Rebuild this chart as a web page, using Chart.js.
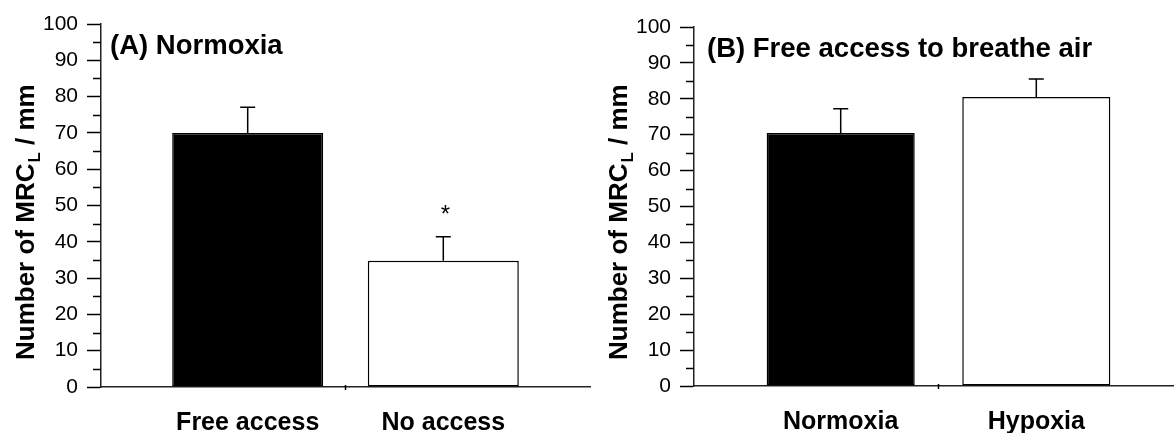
<!DOCTYPE html>
<html><head><meta charset="utf-8">
<script src="https://cdn.jsdelivr.net/npm/chart.js@4.4.0/dist/chart.umd.min.js"></script>
<style>
html,body{margin:0;padding:0;background:#fff;overflow:hidden;width:1174px;height:433px;}
.panel{position:absolute;top:0;width:600px;height:433px;}
#pA{left:0} #pB{left:593px}
</style></head><body>
<div class="panel" id="pA"><canvas id="cA"></canvas></div>
<div class="panel" id="pB"><canvas id="cB"></canvas></div>
<script>
// ---- data ----
const categoriesA = ['Free access', 'No access'];
const valuesA = [70, 34.8];
const errorsA = [7.1, 6.6];
const markersA = ['', '*'];
const fillsA = ['#000000', '#ffffff'];
const titleA = '(A) Normoxia';

const categoriesB = ['Normoxia', 'Hypoxia'];
const valuesB = [70.5, 80.5];
const errorsB = [6.7, 5.0];
const markersB = ['', ''];
const fillsB = ['#000000', '#ffffff'];
const titleB = '(B) Free access to breathe air';

const yMajorTicks = [0, 10, 20, 30, 40, 50, 60, 70, 80, 90, 100];
const yMinorTicks = [5, 15, 25, 35, 45, 55, 65, 75, 85, 95];
const yTitleMain = 'Number of MRC';
const yTitleSub = 'L';
const yTitleTail = ' / mm';

const FONT = "'Liberation Sans', Arial, sans-serif";

const decor = {
  id: 'decor',
  afterDatasetsDraw(chart, args, o) {
    const ctx = chart.ctx, ys = chart.scales.y, xs = chart.scales.x, area = chart.chartArea;
    const meta = chart.getDatasetMeta(0);
    const ds = chart.data.datasets[0];
    ctx.save();
    ctx.strokeStyle = '#000';
    ctx.lineWidth = 1.5;
    // error bars
    meta.data.forEach((el, i) => {
      const topPx = ys.getPixelForValue(ds.data[i].y + ds.errors[i]);
      ctx.beginPath();
      ctx.moveTo(el.x, el.y);
      ctx.lineTo(el.x, topPx);
      ctx.moveTo(el.x - 7.5, topPx);
      ctx.lineTo(el.x + 7.5, topPx);
      ctx.stroke();
      if (ds.markers[i]) {
        ctx.fillStyle = '#000';
        ctx.font = '24px ' + FONT;
        ctx.textAlign = 'center';
        ctx.textBaseline = 'alphabetic';
        ctx.fillText(ds.markers[i], el.x + 2, topPx - 15);
      }
    });
    // minor y ticks
    yMinorTicks.forEach(v => {
      const p = Math.round(ys.getPixelForValue(v)) + 0.5;
      ctx.beginPath();
      ctx.moveTo(area.left - 8, p);
      ctx.lineTo(area.left, p);
      ctx.stroke();
    });
    // category divider tick on x axis
    const mid = xs.getPixelForValue((ds.data.length - 1) / 2);
    ctx.beginPath();
    ctx.moveTo(mid, area.bottom - 2);
    ctx.lineTo(mid, area.bottom + 3);
    ctx.stroke();
    // panel title
    ctx.fillStyle = '#000';
    ctx.font = 'bold 27.5px ' + FONT;
    ctx.textAlign = 'left';
    ctx.textBaseline = 'alphabetic';
    ctx.fillText(o.title, area.left + o.titleDx, area.top + 30);
    // y title (rotated, with subscript)
    ctx.save();
    ctx.translate(34, 360);
    ctx.rotate(-Math.PI / 2);
    ctx.font = 'bold 26px ' + FONT;
    ctx.fillText(yTitleMain, 0, 0);
    let w = ctx.measureText(yTitleMain).width;
    ctx.font = 'bold 17px ' + FONT;
    ctx.fillText(yTitleSub, w + 1, 6);
    w += ctx.measureText(yTitleSub).width + 1;
    ctx.font = 'bold 26px ' + FONT;
    ctx.fillText(yTitleTail, w, 0);
    ctx.restore();
    ctx.restore();
  }
};

function makeChart(id, cats, vals, errs, marks, fills, title, o) {
  const data = cats.map((c, i) => ({ x: i, y: vals[i] }));
  return new Chart(document.getElementById(id), {
    type: 'bar',
    data: { datasets: [{
      data, errors: errs, markers: marks,
      backgroundColor: fills, borderColor: '#000', borderWidth: 1.5,
      borderSkipped: false, barPercentage: o.barPct, categoryPercentage: 1
    }] },
    plugins: [decor],
    options: {
      responsive: true, maintainAspectRatio: false, animation: false,
      devicePixelRatio: 1,
      layout: { padding: { top: o.top, right: 10, left: 0, bottom: 0 } },
      plugins: { legend: { display: false }, tooltip: { enabled: false },
        decor: { title, titleDx: o.titleDx } },
      scales: {
        x: {
          type: 'linear', min: -0.75, max: cats.length - 0.25, offset: false,
          afterBuildTicks: s => { s.ticks = cats.map((c, i) => ({ value: i })); },
          afterFit: s => { s.height = 433 - o.bottom; },
          grid: { drawOnChartArea: false, drawTicks: false, offset: false },
          border: { display: true, color: '#222', width: 1.5 },
          ticks: { autoSkip: false, maxRotation: 0, padding: 21, color: '#000',
            font: { family: FONT, size: 25, weight: 'bold' },
            callback: v => cats[v] }
        },
        y: {
          min: 0, max: 100,
          afterBuildTicks: s => { s.ticks = yMajorTicks.map(v => ({ value: v })); },
          afterFit: s => { s.width = 101; },
          grid: { drawOnChartArea: false, tickLength: 14, tickColor: '#000', tickWidth: 1.5 },
          border: { display: true, color: '#222', width: 1.5 },
          ticks: { padding: 9, color: '#000', font: { family: FONT, size: 21 } }
        }
      }
    }
  });
}

makeChart('cA', categoriesA, valuesA, errorsA, markersA, fillsA, titleA, { top: 24, bottom: 387, barPct: 0.772, titleDx: 9 });
makeChart('cB', categoriesB, valuesB, errorsB, markersB, fillsB, titleB, { top: 27, bottom: 386, barPct: 0.757, titleDx: 13 });
</script>
</body></html>
